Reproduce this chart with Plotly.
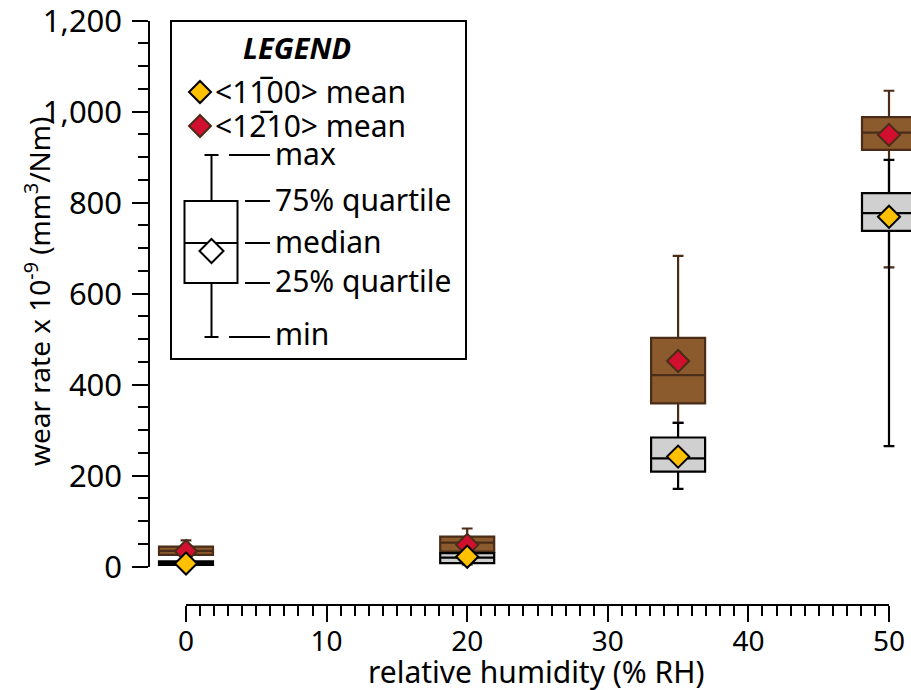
import plotly.graph_objects as go

# ---------------- data ----------------
rh = [0, 20, 35, 50]

# <1-100> orientation (grey boxes, yellow mean)
a_min = [3, 5, 171, 265]
a_q1 = [4, 8, 209, 738]
a_med = [8, 20, 238, 777]
a_q3 = [12, 30, 284, 821]
a_max = [15, 32, 316, 894]
a_mean = [7, 22, 242, 769]

# <1-210> orientation (brown boxes, red mean)
b_min = [22, 30, 316, 658]
b_q1 = [26, 33, 359, 916]
b_med = [35, 53, 421, 954]
b_q3 = [44, 66, 503, 988]
b_max = [58, 84, 683, 1046]
b_mean = [34, 48, 452, 949]

x_ticks = [0, 10, 20, 30, 40, 50]
y_ticks = [0, 200, 400, 600, 800, 1000, 1200]

# ---------------- styling ----------------
W, H = 911, 690
FONT = "Noto Sans"
BROWN = "#8b5b2e"
BROWN_DARK = "#4a2c18"
GREY = "#d0d0d0"
RED = "#d0102e"
YELLOW = "#ffc000"

X0_PX, X50_PX = 186.0, 889.0      # pixel of x=0 and x=50
Y0_PX, Y1200_PX = 566.7, 20.7     # pixel of y=0 and y=1200
xs = (X50_PX - X0_PX) / 50.0
ys = (Y0_PX - Y1200_PX) / 1200.0
x_range = [-X0_PX / xs, (W - X0_PX) / xs]
y_range = [-(H - Y0_PX) / ys, Y0_PX / ys]


def fx(p):
    return p / W


def fy(p):
    return 1 - p / H


BOX_W = 54 / xs

fig = go.Figure()

fig.add_trace(go.Box(
    x=rh, q1=b_q1, median=b_med, q3=b_q3, lowerfence=b_min, upperfence=b_max,
    fillcolor=BROWN, line=dict(color=BROWN_DARK, width=2.2),
    width=BOX_W, whiskerwidth=0.2, boxpoints=False, name="<1-210>",
))
fig.add_trace(go.Box(
    x=rh, q1=a_q1, median=a_med, q3=a_q3, lowerfence=a_min, upperfence=a_max,
    fillcolor=GREY, line=dict(color="black", width=2.2),
    width=BOX_W, whiskerwidth=0.2, boxpoints=False, name="<1-100>",
))
fig.add_trace(go.Scatter(
    x=rh, y=b_mean, mode="markers", cliponaxis=False,
    marker=dict(symbol="diamond", size=17, color=RED,
                line=dict(color=BROWN_DARK, width=2)),
))
fig.add_trace(go.Scatter(
    x=rh, y=a_mean, mode="markers", cliponaxis=False,
    marker=dict(symbol="diamond", size=17, color=YELLOW,
                line=dict(color="black", width=2)),
))
# empty trace so that the visible (free) axes pair exists
fig.add_trace(go.Scatter(x=[], y=[], xaxis="x2", yaxis="y2", hoverinfo="skip"))

# ---------------- legend drawing (paper coords) ----------------
shapes = []
annotations = []


def seg(x0, y0, x1, y1, color="black", width=2):
    shapes.append(dict(type="line", xref="paper", yref="paper",
                       x0=fx(x0), y0=fy(y0), x1=fx(x1), y1=fy(y1),
                       line=dict(color=color, width=width)))


def diamond(cx, cy, r, fill, edge):
    path = (f"M {fx(cx)},{fy(cy - r)} L {fx(cx + r)},{fy(cy)} "
            f"L {fx(cx)},{fy(cy + r)} L {fx(cx - r)},{fy(cy)} Z")
    shapes.append(dict(type="path", xref="paper", yref="paper", path=path,
                       fillcolor=fill, line=dict(color=edge, width=2)))


def label(x, y, text, size=30, **kw):
    annotations.append(dict(xref="paper", yref="paper", x=fx(x), y=fy(y),
                            text=text, showarrow=False, xanchor="left",
                            yanchor="middle", borderpad=0,
                            font=dict(family=FONT, size=size, color="black"),
                            **kw))


# legend frame
shapes.append(dict(type="rect", xref="paper", yref="paper",
                   x0=fx(171), y0=fy(21), x1=fx(466), y1=fy(359),
                   line=dict(color="black", width=2), fillcolor="white"))
annotations.append(dict(xref="paper", yref="paper", x=fx(297), y=fy(47),
                        text="<b><i>LEGEND</i></b>", showarrow=False,
                        xanchor="center", yanchor="middle",
                        font=dict(family=FONT, size=29, color="black")))
diamond(200, 92, 11, YELLOW, "black")
label(214, 91, "&lt;11\u030500&gt; mean")
diamond(200, 126, 11, RED, BROWN_DARK)
label(214, 125, "&lt;12\u030510&gt; mean")

# sample box
cx = 211.5
seg(cx, 155, cx, 201)
seg(cx, 283, cx, 337)
seg(cx - 7, 155, cx + 7, 155)
seg(cx - 7, 337, cx + 7, 337)
shapes.append(dict(type="rect", xref="paper", yref="paper",
                   x0=fx(184.5), y0=fy(201), x1=fx(237.5), y1=fy(283),
                   line=dict(color="black", width=2), fillcolor="white"))
seg(184.5, 243, 237.5, 243)
diamond(cx, 251, 12, "white", "black")
seg(229, 155, 270, 155)
seg(245, 201, 270, 201)
seg(245, 243, 270, 243)
seg(245, 283, 270, 283)
seg(229, 337, 270, 337)
label(274, 153, "max")
label(274, 199, "75% quartile")
label(274, 241, "median")
label(274, 281, "25% quartile")
label(274, 333, "min")

# axis titles
annotations.append(dict(xref="paper", yref="paper", x=fx(38), y=fy(292),
                        text="wear rate x 10<sup>-9</sup> (mm<sup>3</sup>/Nm)",
                        textangle=-90, showarrow=False,
                        xanchor="center", yanchor="middle",
                        font=dict(family=FONT, size=28, color="black")))
annotations.append(dict(xref="paper", yref="paper", x=fx(536), y=fy(671),
                        text="relative humidity (% RH)", showarrow=False,
                        xanchor="center", yanchor="middle",
                        font=dict(family=FONT, size=30, color="black")))

fig.update_layout(
    width=W, height=H, autosize=False,
    margin=dict(l=0, r=0, t=0, b=0, pad=0, autoexpand=False),
    paper_bgcolor="white", plot_bgcolor="rgba(0,0,0,0)",
    showlegend=False, boxmode="overlay",
    font=dict(family=FONT, color="black"),
    xaxis=dict(domain=[0, 1], range=x_range, visible=False, fixedrange=True,
               automargin=False),
    yaxis=dict(domain=[0, 1], range=y_range, visible=False, fixedrange=True,
               automargin=False),
    xaxis2=dict(domain=[fx(X0_PX), fx(X50_PX)], range=[0, 50], anchor="free",
                position=fy(605), side="bottom", automargin=False,
                showline=True, linecolor="black", linewidth=2,
                showgrid=False, zeroline=False,
                ticks="outside", ticklen=16, tickwidth=2, tickcolor="black",
                tickvals=x_ticks, ticklabelstandoff=-5,
                ticklabeloverflow="allow",
                tickfont=dict(family=FONT, size=28, color="black"),
                minor=dict(dtick=1, ticks="outside", ticklen=10, tickwidth=1.5,
                           tickcolor="black", showgrid=False),
                fixedrange=True),
    yaxis2=dict(domain=[fy(Y0_PX), fy(Y1200_PX)], range=[0, 1200], anchor="free",
                position=fx(149.3), side="left", automargin=False,
                showline=True, linecolor="black", linewidth=2,
                showgrid=False, zeroline=False,
                ticks="outside", ticklen=16, tickwidth=2, tickcolor="black",
                tickvals=y_ticks, tickformat=",d", ticklabelstandoff=4,
                ticklabeloverflow="allow",
                tickfont=dict(family=FONT, size=31, color="black"),
                minor=dict(dtick=50, ticks="outside", ticklen=10, tickwidth=1.5,
                           tickcolor="black", showgrid=False),
                fixedrange=True),
    shapes=shapes,
    annotations=annotations,
)

fig.write_html("out.html")
